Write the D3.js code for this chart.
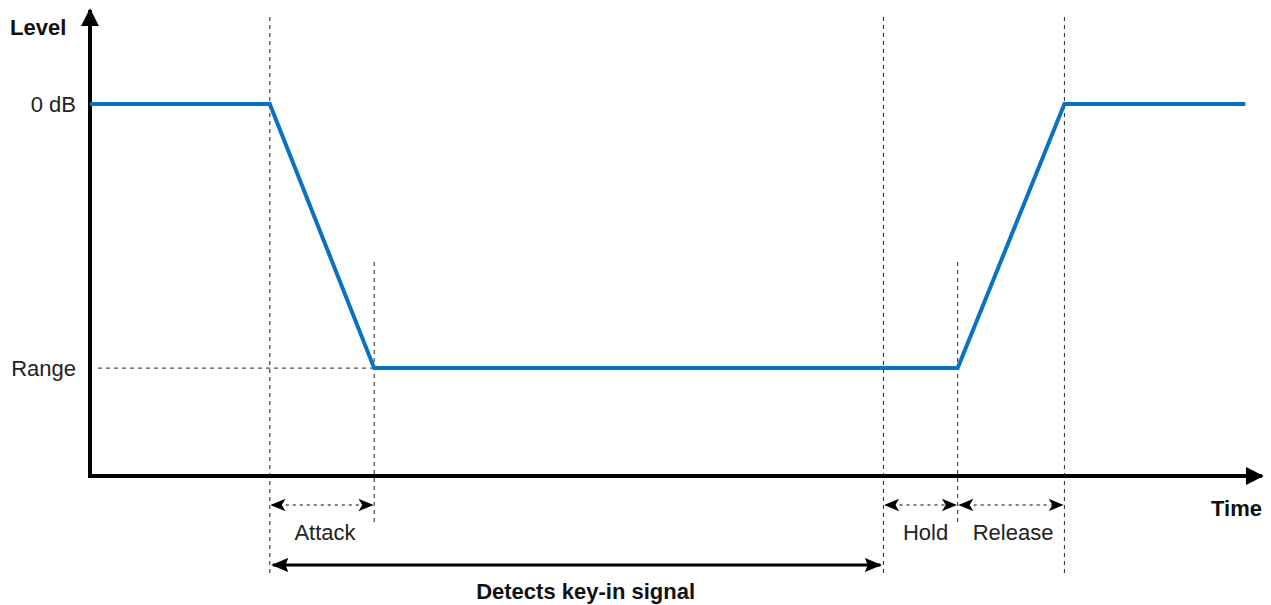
<!DOCTYPE html>
<html><head><meta charset="utf-8">
<script src="https://cdn.jsdelivr.net/npm/d3@7"></script>
<style>body{margin:0;background:#fff}</style>
</head><body>
<svg id="c" width="1271" height="605"></svg>
<script>
// Envelope timing points (arbitrary time units) and levels (relative)
const timePoints = [0, 15.5, 24.5, 68.4, 74.8, 84.0, 99.6];
const levelValues = [1, 1, 0.29, 0.29, 0.29, 1, 1];
const yTickLabels = ["0 dB", "Range"];
const yTickValues = [1, 0.29];
const spanLabels = ["Attack", "Hold", "Release"];
const spanStarts = [15.5, 68.4, 74.8];
const spanEnds = [24.5, 74.8, 84.0];
const keyInLabel = "Detects key-in signal";
const keyInSpan = [15.5, 68.4];
const axisTitles = ["Level", "Time"];

const svg = d3.select("#c");
const x = d3.scaleLinear().domain([0, 100]).range([90, 1250]);
const y = d3.scaleLinear().domain([0, 1]).range([476, 104]);
const font = "'Liberation Sans', Arial, sans-serif";

const defs = svg.append("defs");
defs.append("marker").attr("id","axArrow").attr("viewBox","0 0 10 10").attr("refX",9).attr("refY",5)
  .attr("markerWidth",18).attr("markerHeight",18).attr("markerUnits","userSpaceOnUse").attr("orient","auto")
  .append("path").attr("d","M0,0 L10,5 L0,10 Z").attr("fill","#000");
defs.append("marker").attr("id","barb").attr("viewBox","0 0 12 10").attr("refX",11).attr("refY",5)
  .attr("markerWidth",15).attr("markerHeight",13).attr("markerUnits","userSpaceOnUse").attr("orient","auto-start-reverse")
  .append("path").attr("d","M0,0 L12,5 L0,10 L3,5 Z").attr("fill","#000");
defs.append("marker").attr("id","big").attr("viewBox","0 0 12 10").attr("refX",11).attr("refY",5)
  .attr("markerWidth",17).attr("markerHeight",15).attr("markerUnits","userSpaceOnUse").attr("orient","auto-start-reverse")
  .append("path").attr("d","M0,0 L12,5 L0,10 L2,5 Z").attr("fill","#000");

const dash = "4,4";
const guideColor = "#222";
const fullGuides = [timePoints[1], timePoints[3], timePoints[5]];
svg.selectAll(".g1").data(fullGuides).enter().append("line")
  .attr("x1",d=>x(d)).attr("x2",d=>x(d)).attr("y1",17).attr("y2",577)
  .attr("stroke",guideColor).attr("stroke-width",1).attr("stroke-dasharray",dash);
const shortGuides = [timePoints[2], timePoints[4]];
svg.selectAll(".g2").data(shortGuides).enter().append("line")
  .attr("x1",d=>x(d)).attr("x2",d=>x(d)).attr("y1",262).attr("y2",525)
  .attr("stroke",guideColor).attr("stroke-width",1).attr("stroke-dasharray",dash);
svg.append("line").attr("x1",98).attr("x2",x(timePoints[2])).attr("y1",y(yTickValues[1])).attr("y2",y(yTickValues[1]))
  .attr("stroke",guideColor).attr("stroke-width",1).attr("stroke-dasharray",dash);

// axes
svg.append("line").attr("x1",90).attr("y1",y(0)).attr("x2",90).attr("y2",10)
  .attr("stroke","#000").attr("stroke-width",4).attr("marker-end","url(#axArrow)");
svg.append("line").attr("x1",88).attr("y1",y(0)).attr("x2",1262).attr("y2",y(0))
  .attr("stroke","#000").attr("stroke-width",4).attr("marker-end","url(#axArrow)");

// envelope line
const line = d3.line().x((d,i)=>x(timePoints[i])).y(d=>y(d));
svg.append("path").datum(levelValues).attr("d",line).attr("fill","none")
  .attr("stroke","#0a72c2").attr("stroke-width",4).attr("stroke-linejoin","miter");

// y labels
svg.selectAll(".yl").data(yTickValues).enter().append("text")
  .attr("x",76).attr("y",d=>y(d)).attr("dy","0.35em").attr("text-anchor","end")
  .attr("font-family",font).attr("font-size",22).attr("fill","#222").text((d,i)=>yTickLabels[i]);

// axis titles
svg.append("text").attr("x",10).attr("y",35).attr("font-family",font).attr("font-size",22)
  .attr("font-weight","bold").attr("fill","#111").text(axisTitles[0]);
svg.append("text").attr("x",1262).attr("y",516).attr("text-anchor","end").attr("font-family",font).attr("font-size",22)
  .attr("font-weight","bold").attr("fill","#111").text(axisTitles[1]);

// span arrows
const labelShift = [3, 5, 2];
spanLabels.forEach((lab,i)=>{
  const x0 = x(spanStarts[i])+2, x1 = x(spanEnds[i])-2;
  svg.append("line").attr("x1",x0).attr("x2",x1).attr("y1",505).attr("y2",505)
    .attr("stroke","#000").attr("stroke-width",1).attr("stroke-dasharray","3,4")
    .attr("marker-start","url(#barb)").attr("marker-end","url(#barb)");
  svg.append("text").attr("x",(x(spanStarts[i])+x(spanEnds[i]))/2).attr("dx",labelShift[i]).attr("y",540).attr("text-anchor","middle")
    .attr("font-family",font).attr("font-size",22).attr("fill","#222").text(lab);
});

// key-in arrow
svg.append("line").attr("x1",x(keyInSpan[0])+3).attr("x2",x(keyInSpan[1])-3).attr("y1",565).attr("y2",565)
  .attr("stroke","#000").attr("stroke-width",3)
  .attr("marker-start","url(#big)").attr("marker-end","url(#big)");
svg.append("text").attr("x",(x(keyInSpan[0])+x(keyInSpan[1]))/2).attr("dx",9).attr("y",599).attr("text-anchor","middle")
  .attr("font-family",font).attr("font-size",22).attr("font-weight","bold").attr("fill","#111").text(keyInLabel);
</script>
</body></html>
